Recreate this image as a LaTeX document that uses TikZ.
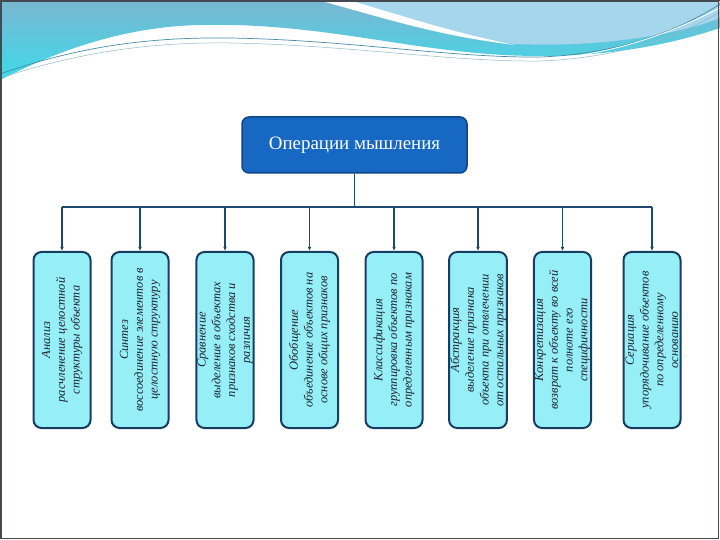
\documentclass[tikz,border=0pt]{standalone}
\usepackage{fontspec}
\setmainfont{Liberation Serif}
\usetikzlibrary{arrows.meta}

\definecolor{opfill}{RGB}{22,104,194}
\definecolor{opdraw}{RGB}{14,70,135}
\definecolor{kindfill}{RGB}{150,238,246}
\definecolor{kinddraw}{RGB}{22,62,98}
\definecolor{kindtext}{RGB}{30,36,48}
\definecolor{linkcol}{RGB}{30,72,110}
\definecolor{waveA}{RGB}{122,182,208}
\definecolor{waveB}{RGB}{62,218,234}
\definecolor{waveC}{RGB}{166,214,236}
\definecolor{waveline}{RGB}{70,140,165}
\definecolor{framecol}{RGB}{70,74,80}

\begin{document}
\begin{tikzpicture}[x=1bp, y=-1bp,
  opbox/.style={draw=opdraw, line width=1.5bp, fill=opfill, rounded corners=7bp,
    minimum width=225bp, minimum height=56bp, text=white,
    font=\fontsize{19}{22}\selectfont},
  kindbox/.style={draw=kinddraw, line width=2bp, fill=kindfill, rounded corners=8bp,
    rotate=90, minimum width=176bp, minimum height=57bp, inner sep=1bp,
    align=center, text=kindtext, font=\fontsize{12.5}{14.8}\selectfont\itshape},
  link/.style={draw=linkcol, line width=1.2bp},
  arr/.style={link, -{Latex[length=4bp,width=3.5bp]}}]

\useasboundingbox (0,0) rectangle (720,540);
\fill[white] (0,0) rectangle (720,540);

% wave at the top of the slide
\shade[top color=waveA, bottom color=waveB] (0,0) -- (720,0) -- (720,28)
  .. controls (660,48) and (600,56) .. (540,56)
  .. controls (420,56) and (330,22) .. (200,25)
  .. controls (110,27) and (40,60) .. (0,80) -- cycle;
\fill[waveC] (330,0) .. controls (400,20) and (450,38) .. (515,44)
  .. controls (600,48) and (680,34) .. (720,18) -- (720,0) -- cycle;
\fill[white] (318,0) .. controls (390,20) and (440,36) .. (515,45)
  .. controls (445,31) and (395,13) .. (348,0) -- cycle;
\draw[waveline, line width=0.7bp] (0,74) .. controls (80,46) and (150,37) .. (230,38)
  .. controls (350,40) and (450,58) .. (540,57) .. controls (620,54) and (680,30) .. (720,4);
\draw[waveline!60, line width=0.5bp] (0,78) .. controls (80,52) and (150,42) .. (230,43)
  .. controls (350,45) and (450,62) .. (540,61) .. controls (620,58) and (680,36) .. (720,12);
\draw[white, line width=0.8bp] (560,58) .. controls (630,50) and (680,28) .. (720,8);
\draw[linkcol, line width=1bp] (0,0.5) -- (720,0.5);

% main node
\node[opbox] (oper) at (354.5,145) {Операции мышления};

% operations
\node[kindbox] (anal) at (62,340)
  {Анализ\\расчленение целостной\\структуры объекта};
\node[kindbox] (sint) at (140,340)
  {Синтез\\воссоединение элементов в\\целостную структуру};
\node[kindbox] (sravn) at (225,340)
  {Сравнение\\выделение в объектах\\признаков сходства и\\различия};
\node[kindbox] (obob) at (309.5,340)
  {Обобщение\\объединение объектов на\\основе общих признаков};
\node[kindbox] (klass) at (394,340)
  {Классификация\\группировка объектов по\\определенным признакам};
\node[kindbox] (abstr) at (478,340)
  {Абстракция\\выделение признака\\объекта при отвлечении\\от остальных признаков};
\node[kindbox] (konkr) at (562.5,340)
  {Конкретизация\\возврат к объекту во всей\\полноте его\\специфичности};
\node[kindbox] (seri) at (652,340)
  {Сериация\\упорядочивание объектов\\по определенному\\основанию};

% bus
\coordinate (busL) at (62,207);
\coordinate (busR) at (652,207);
\draw[link] (oper.south) -- (oper.south |- busL);
\draw[link] (busL) -- (busR);

\draw[arr] (anal.east |- busL) -- (anal.east);
\draw[arr] (sint.east |- busL) -- (sint.east);
\draw[arr] (sravn.east |- busL) -- (sravn.east);
\draw[arr] (obob.east |- busL) -- (obob.east);
\draw[arr] (klass.east |- busL) -- (klass.east);
\draw[arr] (abstr.east |- busL) -- (abstr.east);
\draw[arr] (konkr.east |- busL) -- (konkr.east);
\draw[arr] (seri.east |- busL) -- (seri.east);

% slide frame
\draw[framecol, line width=1.5bp] (1,1) rectangle (718.5,538.5);

\end{tikzpicture}
\end{document}
